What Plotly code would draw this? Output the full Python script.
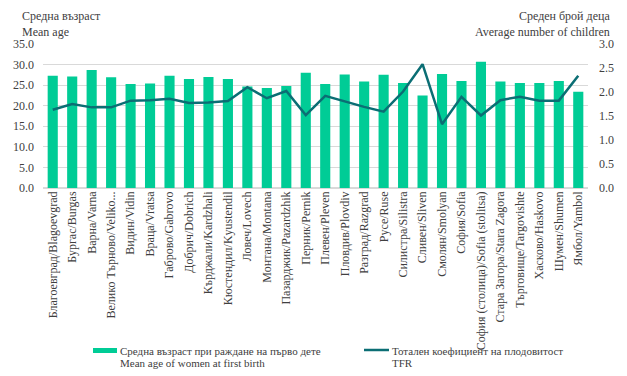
import plotly.graph_objects as go

categories = [
    "Благоевград/Blagoevgrad", "Бургас/Burgas", "Варна/Varna", "Велико Търново/Veliko...",
    "Видин/Vidin", "Враца/Vratsa", "Габрово/Gabrovo", "Добрич/Dobrich",
    "Кърджали/Kardzhali", "Кюстендил/Kyustendil", "Ловеч/Lovech", "Монтана/Montana",
    "Пазарджик/Pazardzhik", "Перник/Pernik", "Плевен/Pleven", "Пловдив/Plovdiv",
    "Разград/Razgrad", "Русе/Ruse", "Силистра/Silistra", "Сливен/Sliven",
    "Смолян/Smolyan", "София/Sofia", "София (столица)/Sofia (stolitsa)", "Стара Загора/Stara Zagora",
    "Търговище/Targovishte", "Хасково/Haskovo", "Шумен/Shumen", "Ямбол/Yambol",
]
mean_age = [27.3, 27.1, 28.7, 26.9, 25.3, 25.4, 27.3, 26.5, 27.0, 26.5, 24.7, 24.3,
            24.8, 28.0, 25.3, 27.6, 25.9, 27.5, 25.5, 22.5, 27.7, 26.0, 30.7, 25.9,
            25.5, 25.5, 26.0, 23.4]
tfr = [1.63, 1.75, 1.68, 1.68, 1.82, 1.83, 1.86, 1.77, 1.78, 1.81, 2.10, 1.87,
       2.02, 1.52, 1.92, 1.80, 1.69, 1.59, 2.01, 2.58, 1.33, 1.90, 1.51, 1.83,
       1.90, 1.82, 1.82, 2.34]

bar_name_lines = ["Средна възраст при раждане на първо дете", "Mean age of women at first birth"]
line_name_lines = ["Тотален коефициент на плодовитост", "TFR"]
left_title = "Средна възраст<br>Mean age"
right_title = "Среден брой деца<br>Average number of children"

BAR_COLOR = "#00CC96"
LINE_COLOR = "#0B6E74"
TXT = "#404040"
FONT = "Times New Roman, Liberation Serif, serif"

fig = go.Figure()
fig.add_trace(go.Bar(x=categories, y=mean_age, name="<br>".join(bar_name_lines),
                     marker=dict(color=BAR_COLOR, line=dict(width=0))))
fig.add_trace(go.Scatter(x=categories, y=tfr, name="<br>".join(line_name_lines), yaxis="y2",
                         mode="lines", line=dict(color=LINE_COLOR, width=2.5)))

fig.update_layout(
    width=627, height=376,
    margin=dict(l=43, r=39, t=44, b=188),
    paper_bgcolor="white", plot_bgcolor="white",
    font=dict(family=FONT, size=12, color=TXT),
    bargap=0.48,
    showlegend=False,
    xaxis=dict(tickangle=-90, tickfont=dict(family=FONT, size=12, color=TXT),
               showline=False, ticks="", showgrid=False, automargin=False),
    yaxis=dict(range=[0, 35], dtick=5, tickformat=".1f", showgrid=True,
               gridcolor="#D9D9D9", gridwidth=1, zeroline=True, zerolinecolor="#D9D9D9",
               tickfont=dict(family=FONT, size=12, color=TXT), ticks="", automargin=False,
               ticklabelstandoff=8),
    yaxis2=dict(range=[0, 3], dtick=0.5, tickformat=".1f", overlaying="y", side="right",
                showgrid=False, zeroline=False, ticks="", automargin=False,
                ticklabelstandoff=10,
                tickfont=dict(family=FONT, size=12, color=TXT)),
)

def px(x):
    return (x - 43) / 545

def py(y):
    return (188 - y) / 144

# axis titles
fig.add_annotation(text=left_title, xref="paper", yref="paper",
                   x=px(20), y=py(24), xanchor="left", yanchor="middle",
                   showarrow=False, align="left", font=dict(family=FONT, size=12, color=TXT))
fig.add_annotation(text=right_title, xref="paper", yref="paper",
                   x=px(612), y=py(24), xanchor="right", yanchor="middle",
                   showarrow=False, align="right", font=dict(family=FONT, size=12, color=TXT))

# legend (drawn)
fig.add_shape(type="rect", xref="paper", yref="paper", x0=px(93), x1=px(117), y0=py(348), y1=py(353),
              fillcolor=BAR_COLOR, line=dict(width=0))
fig.add_shape(type="line", xref="paper", yref="paper", x0=px(364), x1=px(389), y0=py(350), y1=py(350),
              line=dict(color=LINE_COLOR, width=2.5))
for i, t in enumerate(bar_name_lines):
    fig.add_annotation(text=t, xref="paper", yref="paper", x=px(118), y=py(351 + 12 * i),
                       xanchor="left", yanchor="middle", showarrow=False, align="left",
                       font=dict(family=FONT, size=11, color=TXT))
for i, t in enumerate(line_name_lines):
    fig.add_annotation(text=t, xref="paper", yref="paper", x=px(390), y=py(351 + 12 * i),
                       xanchor="left", yanchor="middle", showarrow=False, align="left",
                       font=dict(family=FONT, size=11, color=TXT))

fig.write_html("out.html", post_script="document.body.style.margin='0';",
               config={"displayModeBar": False})
